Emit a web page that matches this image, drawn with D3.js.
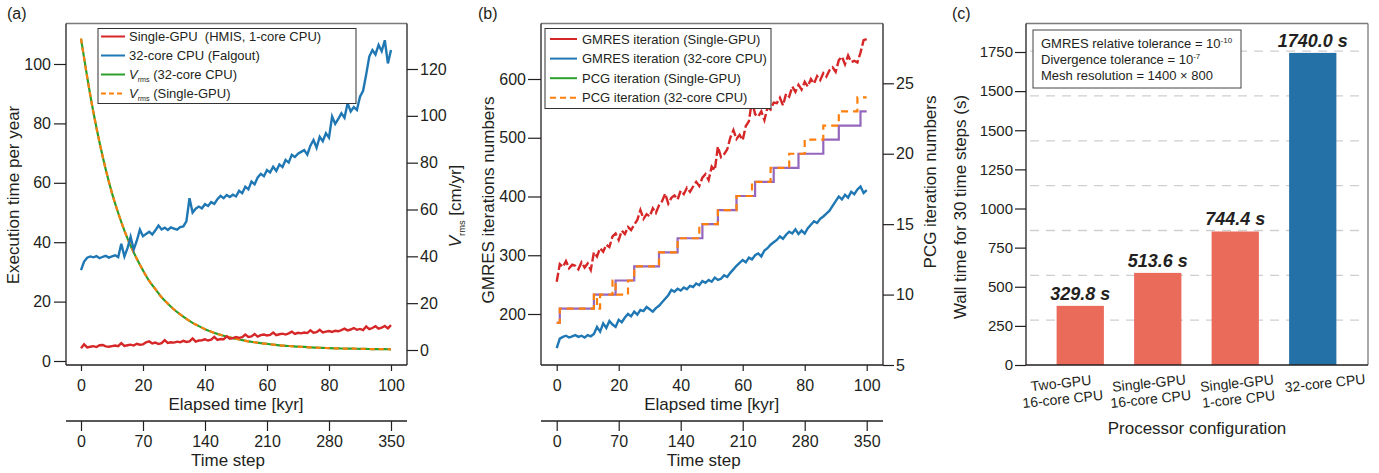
<!DOCTYPE html>
<html>
<head>
<meta charset="utf-8">
<script src="https://cdn.jsdelivr.net/npm/d3@7"></script>
<style>
  body { margin: 0; background: #fff; }
  text { font-family: "Liberation Sans", Arial, sans-serif; fill: #231f20; }
</style>
</head>
<body>
<script>
// ---------- data ----------
const kyr = d3.range(0, 101);          // one sample per kyr
const vrmsKyr = d3.range(0, 101, 2);   // V_rms sampled every 2 kyr
const timeStepTicks = [0, 70, 140, 210, 280, 350];

// (a) execution time per year
const execGpu = [4.3,5.6,4.6,4.8,5.0,4.7,5.3,5.4,4.9,4.8,5.0,
  5.2,5.0,6.0,5.1,5.3,5.5,5.2,5.8,5.5,5.6,
  6.3,6.6,5.9,6.2,5.7,6.0,7.0,6.1,6.3,6.2,
  6.5,6.3,6.8,6.4,6.6,7.6,6.5,6.9,7.0,7.3,
  6.9,7.2,8.1,7.1,7.4,7.3,8.3,7.5,7.7,8.1,
  7.8,8.0,8.9,8.1,8.3,9.1,8.2,8.7,8.9,8.6,
  8.8,9.6,8.7,9.0,9.2,8.9,9.3,9.9,9.1,9.5,
  9.3,9.6,9.4,10.3,9.5,9.7,10.5,9.6,9.9,10.1,
  9.8,10.2,10.0,10.4,10.9,10.3,10.6,11.1,10.5,10.8,
  10.4,11.6,10.7,11.1,11.7,10.9,11.2,11.8,11.0,12.1];
const execCpu = [30.6,33.5,34.8,35.2,34.9,35.3,34.6,35.1,35.4,34.8,35.2,
  35.6,35.0,39.5,35.2,38.0,41.8,37.5,40.5,44.2,42.0,
  42.8,43.5,42.6,44.0,45.6,44.3,44.9,44.1,45.0,44.6,
  44.2,45.1,45.3,47.0,54.8,50.0,51.3,52.0,51.4,52.8,
  52.2,53.5,52.9,54.5,55.6,54.8,55.9,55.2,56.0,55.4,
  57.3,56.5,58.7,57.8,60.4,59.5,61.8,63.0,62.2,64.3,
  63.5,65.4,64.0,66.2,65.3,67.7,66.8,69.4,68.7,69.8,
  70.4,71.0,69.5,72.5,74.4,71.8,75.5,74.0,76.7,75.2,
  82.3,79.8,81.5,83.4,81.9,86.8,84.0,85.5,84.5,89.0,
  91.0,96.5,102.5,104.7,103.2,106.4,104.3,108.0,100.2,104.7];
const vrms = [133,116.5,101.5,88.5,77,67,58.5,51,44.5,39,34,
  29.5,26,22.5,19.8,17.3,15.2,13.3,11.6,10.2,8.9,
  7.8,6.9,6.1,5.4,4.8,4.2,3.7,3.3,2.9,2.6,
  2.3,2.0,1.8,1.6,1.4,1.3,1.1,1.0,0.9,0.8,
  0.7,0.65,0.6,0.55,0.5,0.45,0.4,0.4,0.35,0.3];

// (b) iteration numbers
const gmresGpu = [255,285,280,290,278,284,282,276,288,279,286,
  275,305,298,312,306,318,314,332,337,326,
  342,336,348,343,352,360,377,362,370,366,
  380,372,385,392,405,388,398,402,395,410,
  404,415,408,417,425,418,432,438,428,451,
  445,485,467,472,480,500,513,498,505,496,
  520,528,564,540,536,545,530,552,548,560,
  559,568,555,575,570,587,578,590,582,595,
  587,600,592,605,598,610,604,615,620,612,
  632,638,625,640,629,631,628,645,666,668];
const gmresCpu = [142,158,161,163,160,162,164,161,163,160,164,
  162,166,178,170,184,176,188,182,178,190,
  186,194,200,196,204,199,207,205,212,208,
  204,210,214,220,226,232,241,238,243,240,
  245,242,248,246,252,249,256,253,258,255,
  262,258,260,266,263,270,276,282,287,292,
  288,296,293,300,303,298,308,312,318,322,
  326,332,328,335,340,337,344,336,342,337,
  346,352,358,355,362,366,371,376,384,392,
  400,395,403,398,408,404,412,417,406,411];
const pcgGpu = [8,9,9,9,9,9,9,9,9,9,9,
  9,10,10,10,10,10,10,10,11,11,
  11,11,11,11,12,12,12,12,12,12,
  12,12,13,13,13,13,13,13,14,14,
  14,14,14,14,14,14,15,15,15,15,
  15,16,16,16,16,16,16,17,17,17,
  17,17,17,18,18,18,18,18,18,19,
  19,19,19,19,19,19,19,20,20,20,
  20,20,20,20,20,21,21,21,21,21,
  22,22,22,22,22,22,22,23,23,23];
const pcgCpu = [8,9,9,9,9,9,9,9,9,9,9,
  9,10,9,10,10,10,10,11,10,10,
  10,10,11,11,12,12,12,12,12,12,
  12,12,13,13,13,13,13,13,14,14,
  14,14,14,14,14,15,15,15,15,15,
  15,16,16,16,16,16,16,17,17,17,
  17,17,18,18,18,18,18,18,19,19,
  19,19,19,19,20,20,20,20,20,21,
  21,21,21,21,21,22,22,22,22,22,
  23,23,23,23,23,23,24,24,24,24];

// (c) wall time
const configs = ["Two-GPU\n16-core CPU", "Single-GPU\n16-core CPU", "Single-GPU\n1-core CPU", "32-core CPU"];
const wallTime = [329.8, 513.6, 744.4, 1740.0];
const barColors = ["#eb6b5b", "#eb6b5b", "#eb6b5b", "#2471a8"];
const wallTickLabels = ["0", "250", "500", "750", "1000", "1250", "1500", "1500", "1750"];
const gridValues = [250, 500, 750, 1000, 1250, 1500, 1750];

// ---------- setup ----------
const W = 1379, H = 473;
const ink = "#231f20", frameGray = "#7a7a7a";
const RED = "#d62728", BLUE = "#1f77b4", GREEN = "#2ca02c", ORANGE = "#ff7f0e", PURPLE = "#9467bd";
const plotTop = 23.5, plotBottom = 365;

const svg = d3.select("body").append("svg")
  .attr("width", W).attr("height", H);

function styleAxis(g, fs) {
  g.select(".domain").remove();
  g.selectAll(".tick line").attr("stroke", ink).attr("stroke-width", 1.2);
  g.selectAll(".tick text").attr("font-size", fs).attr("fill", ink)
    .attr("font-family", '"Liberation Sans", Arial, sans-serif');
}

function frame(x0, x1, rightDark) {
  const f = svg.append("g");
  f.append("line").attr("x1", x0).attr("x2", x1).attr("y1", plotTop).attr("y2", plotTop)
    .attr("stroke", frameGray).attr("stroke-width", 1.3);
  f.append("line").attr("x1", x1).attr("x2", x1).attr("y1", plotTop).attr("y2", plotBottom)
    .attr("stroke", rightDark ? ink : frameGray).attr("stroke-width", 1.3);
  f.append("line").attr("x1", x0).attr("x2", x0).attr("y1", plotTop).attr("y2", plotBottom)
    .attr("stroke", ink).attr("stroke-width", 1.3);
  f.append("line").attr("x1", x0).attr("x2", x1).attr("y1", plotBottom).attr("y2", plotBottom)
    .attr("stroke", ink).attr("stroke-width", 1.3);
}

// two stacked x axes: elapsed time and time step
function timeAxes(x0, x1, xr) {
  const x = d3.scaleLinear([0, 100], xr);
  const xs = d3.scaleLinear([0, 350], xr);
  svg.append("g").attr("transform", `translate(0,${plotBottom})`)
    .call(d3.axisBottom(x).tickValues([0, 20, 40, 60, 80, 100]).tickSize(6).tickPadding(9))
    .call(g => styleAxis(g, 16));
  svg.append("text").attr("x", (xr[0] + xr[1]) / 2).attr("y", 410)
    .attr("text-anchor", "middle").attr("font-size", 17).text("Elapsed time [kyr]");
  svg.append("line").attr("x1", x0).attr("x2", x1).attr("y1", 421).attr("y2", 421)
    .attr("stroke", ink).attr("stroke-width", 1.3);
  svg.append("g").attr("transform", "translate(0,421)")
    .call(d3.axisBottom(xs).tickValues(timeStepTicks).tickSize(10).tickPadding(5))
    .call(g => styleAxis(g, 16));
  svg.append("text").attr("x", (xr[0] + xr[1]) / 2 - 8).attr("y", 466)
    .attr("text-anchor", "middle").attr("font-size", 17).text("Time step");
  return x;
}

function rotLabel(x, y, fs, build) {
  const t = svg.append("text").attr("transform", `translate(${x},${y}) rotate(-90)`)
    .attr("text-anchor", "middle").attr("font-size", fs);
  build(t);
  return t;
}

function panelLabel(x, s) {
  svg.append("text").attr("x", x).attr("y", 19).attr("font-size", 16).text(s);
}

function vrmsText(t, rest, fs) {
  t.append("tspan").attr("font-style", "italic").text("V");
  t.append("tspan").attr("font-size", fs * 0.55).attr("dy", fs * 0.25).text("rms");
  t.append("tspan").attr("dy", -fs * 0.25).text(rest);
}

// ---------- panel (a) ----------
panelLabel(7, "(a)");
frame(66, 407, true);
const xa = timeAxes(66, 407, [81, 391]);
const yaL = d3.scaleLinear([0, 100], [361, 64]);
const yaR = d3.scaleLinear([0, 120], [350, 69]);

svg.append("g").attr("transform", "translate(66,0)")
  .call(d3.axisLeft(yaL).tickValues([0, 20, 40, 60, 80, 100]).tickSize(12).tickPadding(3))
  .call(g => styleAxis(g, 16));
svg.append("g").attr("transform", "translate(407,0)")
  .call(d3.axisRight(yaR).tickValues([0, 20, 40, 60, 80, 100, 120]).tickSize(11).tickPadding(2))
  .call(g => styleAxis(g, 16));

rotLabel(19, 195, 17, t => t.text("Execution time per year"));
rotLabel(461, 206, 17, t => vrmsText(t, " [cm/yr]", 17));

const lineA = d3.line().x((d, i) => xa(kyr[i])).y(d => yaL(d));
const lineV = d3.line().x((d, i) => xa(vrmsKyr[i])).y(d => yaR(d)).curve(d3.curveMonotoneX);

svg.append("path").datum(vrms).attr("d", lineV).attr("fill", "none")
  .attr("stroke", GREEN).attr("stroke-width", 2.2);
svg.append("path").datum(vrms).attr("d", lineV).attr("fill", "none")
  .attr("stroke", ORANGE).attr("stroke-width", 2.2).attr("stroke-dasharray", "5,4");
svg.append("path").datum(execGpu).attr("d", lineA).attr("fill", "none")
  .attr("stroke", RED).attr("stroke-width", 2.4);
svg.append("path").datum(execCpu).attr("d", lineA).attr("fill", "none")
  .attr("stroke", BLUE).attr("stroke-width", 2.4);

// legend (a)
const legA = svg.append("g");
legA.append("rect").attr("x", 98).attr("y", 28.5).attr("width", 258).attr("height", 75)
  .attr("fill", "#fff").attr("stroke", "#333").attr("stroke-width", 1);
const legAItems = [
  {c: RED, dash: null, label: "Single-GPU  (HMIS, 1-core CPU)"},
  {c: BLUE, dash: null, label: "32-core CPU (Falgout)"},
  {c: GREEN, dash: null, v: " (32-core CPU)"},
  {c: ORANGE, dash: "5,3", v: " (Single-GPU)"}
];
legAItems.forEach((d, i) => {
  const y = 36.5 + i * 19;
  legA.append("line").attr("x1", 101).attr("x2", 125).attr("y1", y).attr("y2", y)
    .attr("stroke", d.c).attr("stroke-width", 2).attr("stroke-dasharray", d.dash);
  const t = legA.append("text").attr("x", 129).attr("y", y + 4.5).attr("font-size", 13)
    .attr("xml:space", "preserve");
  if (d.v) vrmsText(t, d.v, 13); else t.text(d.label);
});

// ---------- panel (b) ----------
panelLabel(478, "(b)");
frame(541, 883, true);
const xb = timeAxes(541, 883, [556.7, 866.7]);
const ybL = d3.scaleLinear([200, 600], [314, 79]);
const ybR = d3.scaleLinear([5, 25], [365, 83.3]);

svg.append("g").attr("transform", "translate(541,0)")
  .call(d3.axisLeft(ybL).tickValues([200, 300, 400, 500, 600]).tickSize(13).tickPadding(2))
  .call(g => styleAxis(g, 16));
svg.append("g").attr("transform", "translate(883,0)")
  .call(d3.axisRight(ybR).tickValues([5, 10, 15, 20, 25]).tickSize(11).tickPadding(2))
  .call(g => styleAxis(g, 16));

rotLabel(494, 200, 17, t => t.text("GMRES iterations numbers"));
rotLabel(936, 182, 17, t => t.text("PCG iteration numbers"));

const lineBL = d3.line().x((d, i) => xb(kyr[i])).y(d => ybL(d));
const lineBR = d3.line().x((d, i) => xb(kyr[i])).y(d => ybR(d)).curve(d3.curveStepAfter);

svg.append("path").datum(gmresCpu).attr("d", lineBL).attr("fill", "none")
  .attr("stroke", BLUE).attr("stroke-width", 2.4);
svg.append("path").datum(gmresGpu).attr("d", lineBL).attr("fill", "none")
  .attr("stroke", RED).attr("stroke-width", 2.4).attr("stroke-dasharray", "9,3");
svg.append("path").datum(pcgGpu).attr("d", lineBR).attr("fill", "none")
  .attr("stroke", PURPLE).attr("stroke-width", 2.2);
svg.append("path").datum(pcgCpu).attr("d", lineBR).attr("fill", "none")
  .attr("stroke", ORANGE).attr("stroke-width", 2.2).attr("stroke-dasharray", "7,5");

const legB = svg.append("g");
legB.append("rect").attr("x", 545).attr("y", 28.5).attr("width", 226).attr("height", 80)
  .attr("fill", "#fff").attr("stroke", "#333").attr("stroke-width", 1);
const legBItems = [
  {c: RED, dash: null, label: "GMRES iteration (Single-GPU)"},
  {c: BLUE, dash: null, label: "GMRES iteration (32-core CPU)"},
  {c: GREEN, dash: null, label: "PCG iteration (Single-GPU)"},
  {c: ORANGE, dash: "6,4", label: "PCG iteration (32-core CPU)"}
];
legBItems.forEach((d, i) => {
  const y = 39 + i * 19.6;
  legB.append("line").attr("x1", 550).attr("x2", 577).attr("y1", y).attr("y2", y)
    .attr("stroke", d.c).attr("stroke-width", 2).attr("stroke-dasharray", d.dash);
  legB.append("text").attr("x", 582).attr("y", y + 4.5).attr("font-size", 13).text(d.label);
});

// ---------- panel (c) ----------
panelLabel(952, "(c)");
const yBar = d3.scaleLinear([0, 1904], [plotBottom, plotTop]);
const yTick = d3.scaleLinear([0, wallTickLabels.length - 1], [plotBottom, 52]);
const xBar = d3.scaleBand(configs, [1041.5, 1351.5]).paddingInner(0.39).paddingOuter(0.195);
const xLab = d3.scalePoint(configs, [1061, 1325]);

svg.append("g").selectAll("line").data(gridValues).join("line")
  .attr("x1", 1030).attr("x2", 1366)
  .attr("y1", d => yBar(d)).attr("y2", d => yBar(d))
  .attr("stroke", "#cfcfcf").attr("stroke-width", 1.3).attr("stroke-dasharray", "9,7");

svg.append("g").selectAll("rect").data(wallTime).join("rect")
  .attr("x", (d, i) => xBar(configs[i]))
  .attr("width", xBar.bandwidth())
  .attr("y", d => yBar(d))
  .attr("height", d => plotBottom - yBar(d))
  .attr("fill", (d, i) => barColors[i]);

svg.append("g").selectAll("text").data(wallTime).join("text")
  .attr("x", (d, i) => xBar(configs[i]) + xBar.bandwidth() / 2)
  .attr("y", d => yBar(d) - 6)
  .attr("text-anchor", "middle")
  .attr("font-size", 18).attr("font-weight", "bold").attr("font-style", "italic")
  .text(d => d.toFixed(1) + " s");

frame(1026, 1368, false);

svg.append("g").attr("transform", "translate(1026,0)")
  .call(d3.axisLeft(yTick).tickValues(d3.range(wallTickLabels.length))
    .tickFormat(i => wallTickLabels[i]).tickSize(11).tickPadding(2))
  .call(g => styleAxis(g, 15));

rotLabel(966, 207, 17, t => t.text("Wall time for 30 time steps (s)"));

configs.forEach(c => {
  const lines = c.split("\n");
  const g = svg.append("g").attr("transform", `translate(${xLab(c)},383) rotate(-6)`);
  lines.forEach((s, j) => {
    g.append("text").attr("x", 0).attr("y", 5 + j * 16)
      .attr("text-anchor", "middle").attr("font-size", 14).text(s);
  });
});
svg.append("text").attr("x", 1197).attr("y", 434).attr("text-anchor", "middle")
  .attr("font-size", 17).text("Processor configuration");

// annotation box
const box = svg.append("g");
box.append("rect").attr("x", 1033).attr("y", 30).attr("width", 208).attr("height", 58)
  .attr("fill", "#fff").attr("stroke", "#444").attr("stroke-width", 1);
const boxLines = [
  ["GMRES relative tolerance = 10", "-10"],
  ["Divergence tolerance = 10", "-7"],
  ["Mesh resolution = 1400 × 800", null]
];
boxLines.forEach((l, i) => {
  const t = box.append("text").attr("x", 1041).attr("y", 48 + i * 16).attr("font-size", 13);
  t.append("tspan").text(l[0]);
  if (l[1]) t.append("tspan").attr("font-size", 8).attr("dy", -5).text(l[1]);
});
</script>
</body>
</html>
